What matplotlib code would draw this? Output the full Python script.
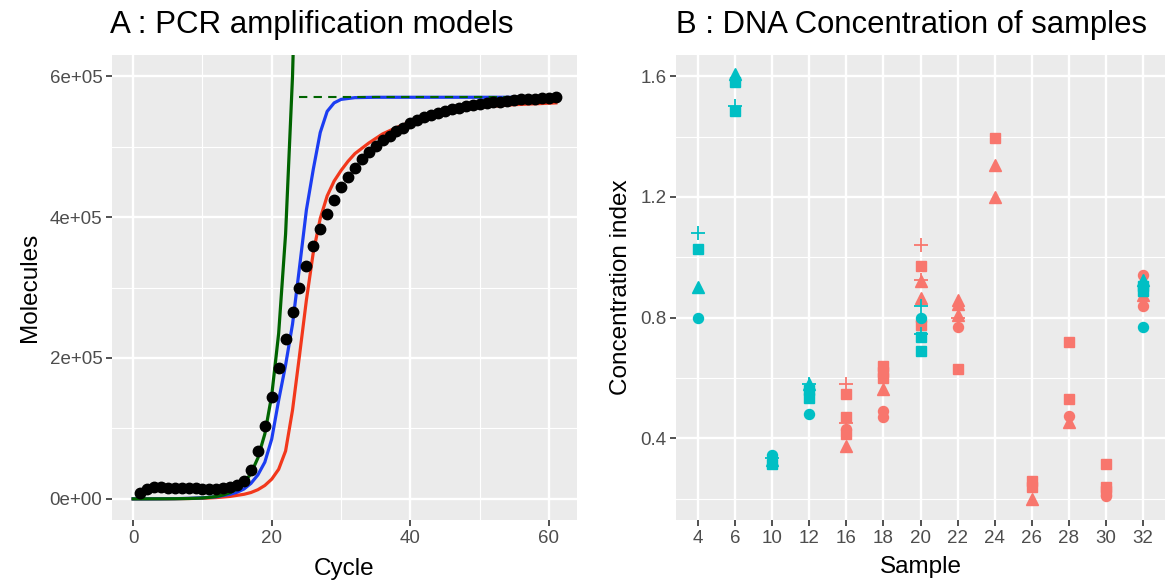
"""Two-panel figure: PCR amplification models and DNA concentration of samples."""

import matplotlib
matplotlib.use("Agg")
import matplotlib.pyplot as plt
import numpy as np

plt.rcParams["font.family"] = ["Liberation Sans", "DejaVu Sans"]

# ---- Panel A data -------------------------------------------------------
cycles = list(range(1, 62))
molecules = [
    9000, 14000, 16500, 16500, 16000, 16000, 15500, 15500, 15000, 14500,
    14000, 14000, 15000, 16500, 20000, 26000, 41000, 68000, 104000, 145000,
    186000, 227000, 265000, 300000, 331000, 359000, 383000, 405000, 424000, 442000,
    457000, 470000, 482000, 492000, 501000, 509000, 515000, 522000, 527000, 533000,
    538000, 542000, 545000, 548000, 551000, 553000, 555000, 557000, 559000, 560000,
    561500, 563000, 564000, 565000, 566000, 567000, 567500, 568000, 568500, 569000,
    570000,
]

exp_cycles = [0, 2, 4, 6, 8, 9, 10, 11, 12, 13, 14, 15, 16, 17, 18, 19, 20, 21, 22, 23, 24]
exp_model = [0, 30, 80, 200, 500, 800, 1300, 2100, 3400, 5500, 8800, 14000, 22500,
             36000, 58000, 92000, 147000, 235000, 376000, 600000, 960000]

logis_cycles = [0, 2, 4, 6, 8, 10, 12, 14, 15, 16, 17, 18, 19, 20, 21, 22, 23, 24,
                25, 26, 27, 28, 29, 30, 32, 35, 40, 50, 61]
logis_model = [0, 0, 100, 300, 700, 1500, 3000, 6500, 9400, 14000, 22000, 34000,
               52000, 85000, 140000, 190000, 248000, 328000, 410000, 468000, 520000,
               550000, 562000, 567000, 569500, 570000, 570000, 570000, 570000]

sigm_cycles = [0, 5, 10, 12, 14, 16, 17, 18, 19, 20, 21, 22, 23, 24, 25, 26, 27, 28,
               29, 30, 31, 32, 34, 36, 38, 40, 43, 46, 50, 55, 61]
sigm_model = [0, 100, 800, 1800, 3500, 6500, 9000, 13000, 19000, 28000, 42000, 68000,
              126000, 203000, 282000, 350000, 398000, 430000, 451000, 466000, 479000,
              490000, 505000, 518000, 527000, 535000, 543000, 550000, 556000, 559500,
              562000]

plateau_level = 570000
plateau_cycles = [24, 61]

# ---- Panel B data -------------------------------------------------------
samples = ["4", "6", "10", "12", "16", "18", "20", "22", "24", "26", "28", "30", "32"]
pt_sample = (["4"] * 4 + ["6"] * 4 + ["10"] * 4 + ["12"] * 5 + ["16"] * 7 + ["18"] * 6
             + ["20"] * 12 + ["22"] * 6 + ["24"] * 3 + ["26"] * 3 + ["28"] * 4
             + ["30"] * 4 + ["32"] * 7)
pt_value = [
    1.08, 1.027, 0.903, 0.80,
    1.607, 1.58, 1.50, 1.485,
    0.345, 0.335, 0.33, 0.315,
    0.58, 0.58, 0.56, 0.535, 0.48,
    0.58, 0.547, 0.47, 0.45, 0.43, 0.415, 0.375,
    0.64, 0.62, 0.60, 0.565, 0.49, 0.47,
    1.04, 0.97, 0.925, 0.92, 0.865, 0.84, 0.80, 0.79, 0.775, 0.745, 0.735, 0.69,
    0.86, 0.845, 0.81, 0.80, 0.77, 0.63,
    1.395, 1.305, 1.20,
    0.26, 0.24, 0.20,
    0.72, 0.53, 0.475, 0.455,
    0.315, 0.24, 0.225, 0.21,
    0.94, 0.925, 0.905, 0.89, 0.875, 0.84, 0.77,
]
pt_shape = [
    "plus", "square", "triangle", "circle",
    "triangle", "square", "plus", "square",
    "circle", "plus", "triangle", "square",
    "plus", "triangle", "square", "square", "circle",
    "plus", "square", "square", "plus", "circle", "square", "triangle",
    "square", "square", "square", "triangle", "circle", "circle",
    "plus", "square", "plus", "triangle", "triangle", "plus", "circle", "circle",
    "square", "plus", "square", "square",
    "triangle", "triangle", "triangle", "plus", "circle", "square",
    "square", "triangle", "triangle",
    "square", "square", "triangle",
    "square", "square", "circle", "triangle",
    "square", "square", "square", "circle",
    "circle", "triangle", "square", "square", "triangle", "circle", "circle",
]
pt_group = [
    "g2", "g2", "g2", "g2",
    "g2", "g2", "g2", "g2",
    "g2", "g2", "g2", "g2",
    "g2", "g2", "g2", "g2", "g2",
    "g1", "g1", "g1", "g1", "g1", "g1", "g1",
    "g1", "g1", "g1", "g1", "g1", "g1",
    "g1", "g1", "g1", "g1", "g1", "g2", "g2", "g1", "g1", "g2", "g2", "g2",
    "g1", "g1", "g1", "g1", "g1", "g1",
    "g1", "g1", "g1",
    "g1", "g1", "g1",
    "g1", "g1", "g1", "g1",
    "g1", "g1", "g1", "g1",
    "g1", "g2", "g2", "g2", "g1", "g1", "g2",
]

group_colors = {"g1": "#F8766D", "g2": "#00BFC4"}
shape_style = {
    "circle": dict(marker="o", ms=7.2),
    "triangle": dict(marker="^", ms=8.0),
    "square": dict(marker="s", ms=6.6),
    "plus": dict(marker="+", ms=10.5, mew=1.3),
}

PANEL = "#EBEBEB"
TICK = "#4D4D4D"


def style_axes(ax):
    ax.set_facecolor(PANEL)
    for s in ax.spines.values():
        s.set_visible(False)
    ax.grid(True, which="major", color="white", lw=1.7)
    ax.grid(True, which="minor", color="white", lw=0.85)
    ax.set_axisbelow(True)
    ax.tick_params(which="major", length=4, width=1.2, color="#333333",
                   labelsize=13.5, labelcolor=TICK, pad=3)
    ax.tick_params(which="minor", length=0)


fig = plt.figure(figsize=(11.65, 5.8), dpi=100)
bottom, height = 1 - 520 / 580, 465 / 580
ax1 = fig.add_axes([112 / 1165, bottom, 465 / 1165, height])
ax2 = fig.add_axes([676 / 1165, bottom, 489 / 1165, height])

# ---- Panel A ------------------------------------------------------------
style_axes(ax1)
ax1.plot(sigm_cycles, sigm_model, color="#F2381C", lw=2.3, zorder=3)
ax1.plot(logis_cycles, logis_model, color="#1C3DF2", lw=2.3, zorder=3)
ax1.plot(exp_cycles, exp_model, color="#006400", lw=2.3, zorder=3)
ax1.plot(plateau_cycles, [plateau_level] * 2, color="#006400", lw=1.5,
         ls=(0, (4, 3)), zorder=3)
ax1.plot(cycles, molecules, "o", color="black", ms=7.5, zorder=4)
ax1.set_xlim(-3.05, 64.05)
ax1.set_ylim(-30000, 630000)
ax1.set_xticks([0, 20, 40, 60])
ax1.set_xticks([10, 30, 50], minor=True)
ax1.set_yticks([0, 200000, 400000, 600000])
ax1.set_yticklabels(["0e+00", "2e+05", "4e+05", "6e+05"])
ax1.set_yticks([100000, 300000, 500000], minor=True)
ax1.set_xlabel("Cycle", fontsize=17.5, labelpad=8)
ax1.set_ylabel("Molecules", fontsize=17.5, labelpad=6)

# ---- Panel B ------------------------------------------------------------
style_axes(ax2)
xpos = {s: i for i, s in enumerate(samples)}
for grp in ["g1", "g2"]:
    for x_s, v, shp, g in zip(pt_sample, pt_value, pt_shape, pt_group):
        if g != grp:
            continue
        ax2.plot(xpos[x_s], v, ls="none", color=group_colors[g],
                 markeredgecolor=group_colors[g], **shape_style[shp], zorder=3)
ax2.set_xlim(-0.6, len(samples) - 0.4)
ax2.set_ylim(0.13, 1.67)
ax2.set_xticks(range(len(samples)))
ax2.set_xticklabels(samples)
ax2.set_yticks([0.4, 0.8, 1.2, 1.6])
ax2.set_yticks([0.2, 0.6, 1.0, 1.4], minor=True)
ax2.set_xlabel("Sample", fontsize=17.5, labelpad=7)
ax2.set_ylabel("Concentration index", fontsize=17.5, labelpad=6)

fig.text(110 / 1165, 1 - 33 / 580, "A : PCR amplification models", fontsize=22.5,
         ha="left", va="baseline")
fig.text(676 / 1165, 1 - 33 / 580, "B : DNA Concentration of samples", fontsize=22.3,
         ha="left", va="baseline")

fig.savefig("out.png", dpi=100)
